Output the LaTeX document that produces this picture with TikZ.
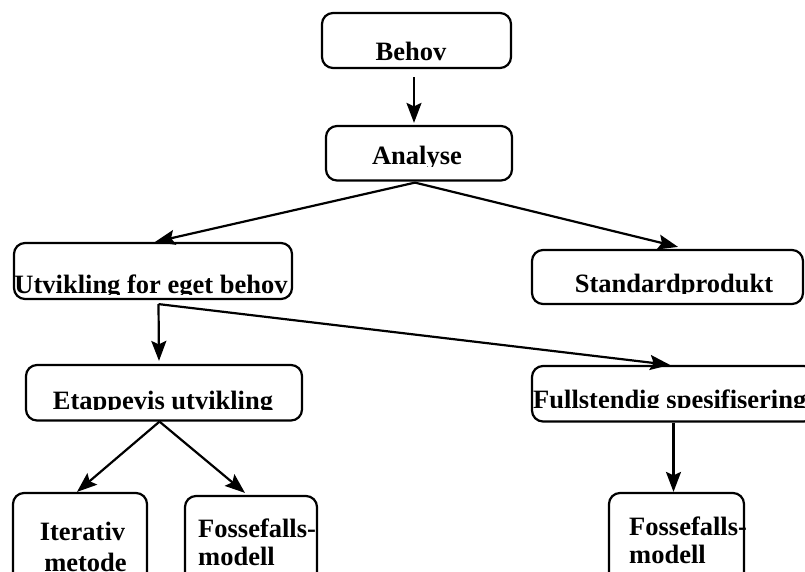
\documentclass[tikz,border=0pt]{standalone}
\usepackage{fontspec}
\setmainfont{Liberation Serif}
\usetikzlibrary{arrows.meta}

% label clipped to a horizontal band: name, x, baseline, clip y, anchor, text
\newcommand\cutlabel[6]{%
  \begin{scope}
    \clip (0,#3-40) rectangle (830,#4);
    \node[lbl,anchor=#5] (#1) at (#2,#3) {#6};
  \end{scope}}

\begin{document}
\begin{tikzpicture}[x=1pt,y=-1pt,
  stepbox/.style={draw,line width=2.2pt,rounded corners=11pt,inner sep=0pt},
  lbl/.style={inner sep=0pt,font=\bfseries\fontsize{26.5pt}{28pt}\selectfont},
  arr/.style={line width=2.2pt,-{Stealth[length=20pt,width=15pt,inset=3.5pt]}}]
\useasboundingbox (0,0) rectangle (805,572);

% boxes
\node[stepbox,minimum width=189pt,minimum height=55pt]   (behov)   at (416.5,40.5) {};
\node[stepbox,minimum width=186pt,minimum height=54.5pt] (analyse) at (419,153.25) {};
\node[stepbox,minimum width=278pt,minimum height=56pt]   (utv)     at (153,271) {};
\node[stepbox,minimum width=271pt,minimum height=54pt]   (std)     at (667.5,277) {};
\node[stepbox,minimum width=276pt,minimum height=55.5pt] (etapp)   at (164,392.75) {};
\node[stepbox,minimum width=283pt,minimum height=55.5pt] (full)    at (673.5,393.75) {};
\node[stepbox,minimum width=134pt,minimum height=107pt]  (iter)    at (80,546.5) {};
\node[stepbox,minimum width=132pt,minimum height=104pt]  (foss1)   at (251,548) {};
\node[stepbox,minimum width=135pt,minimum height=107pt]  (foss2)   at (676.5,546.5) {};

% labels (descenders cut off at the band edge)
\cutlabel{tbehov}{411}{60.5}{62}{base}{Behov}
\cutlabel{tanalyse}{417}{165}{167}{base}{Analyse}
\cutlabel{tutv}{151}{293.5}{294}{base}{Utvikling for eget behov}
\cutlabel{tstd}{674}{292}{293}{base}{Standardprodukt}
\cutlabel{tetapp}{163}{409}{409.5}{base}{Etappevis utvikling}
\cutlabel{tfull}{533}{408}{407}{base west}{Fullstendig spesifisering}

\node[lbl,anchor=base] (titer1) at (82.5,540) {Iterativ};
\node[lbl,anchor=base] (titer2) at (85.5,571) {metode};
\node[lbl,anchor=base west] (tfa1) at (198,537) {Fossefalls-};
\node[lbl,anchor=base west] (tfa2) at (198,565) {modell};
\node[lbl,anchor=base west] (tfb1) at (629,535) {Fossefalls-};
\node[lbl,anchor=base west] (tfb2) at (629,563) {modell};

% connectors
\draw[arr] ([xshift=-2.5pt,yshift=-8pt]behov.south) -- ([xshift=-5pt,yshift=2pt]analyse.north);
\draw[arr] ([xshift=-4pt,yshift=-1pt]analyse.south) -- ([xshift=2pt]utv.north);
\draw[arr] ([xshift=-4pt,yshift=-1pt]analyse.south) -- ([xshift=10.5pt,yshift=2pt]std.north);
\draw[arr] ([xshift=5.5pt,yshift=-4pt]utv.south) -- ([xshift=-5pt,yshift=3pt]etapp.north);
\draw[arr] ([xshift=5.5pt,yshift=-4pt]utv.south) -- ([xshift=-3.5pt]full.north);
\draw[arr] ([xshift=-4.5pt]etapp.south) -- ([xshift=-3pt]iter.north);
\draw[arr] ([xshift=-4.5pt]etapp.south) -- ([xshift=-6pt,yshift=2pt]foss1.north);
\draw[arr] (full.south) -- ([xshift=-3pt]foss2.north);
\end{tikzpicture}
\end{document}
